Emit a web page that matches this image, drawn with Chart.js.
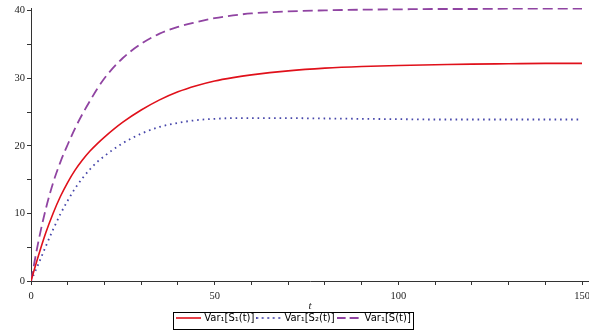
<!DOCTYPE html>
<html>
<head>
<meta charset="utf-8">
<script src="https://cdn.jsdelivr.net/npm/chart.js@4.4.0/dist/chart.umd.min.js"></script>
<style>
  html, body { margin: 0; padding: 0; background: #fff; }
</style>
</head>
<body>
<canvas id="varChart" width="589" height="333"></canvas>
<script>
// time points and the three variance curves
const times = [0, 2, 4, 6, 8, 10, 12, 14, 16, 18, 20, 25, 30, 35, 40, 45, 50, 55, 60, 70, 80, 90, 100, 110, 120, 130, 140, 150];
const varS1 = [0, 3.7, 7.1, 10.0, 12.5, 14.6, 16.4, 17.9, 19.2, 20.3, 21.3, 23.5, 25.3, 26.8, 28.0, 28.9, 29.6, 30.1, 30.5, 31.1, 31.5, 31.75, 31.9, 32.0, 32.1, 32.15, 32.2, 32.2];
const varS2 = [0, 2.5, 5.1, 7.6, 9.9, 11.9, 13.7, 15.2, 16.5, 17.6, 18.5, 20.4, 21.8, 22.8, 23.4, 23.8, 24.0, 24.1, 24.1, 24.1, 24.05, 24.0, 23.95, 23.9, 23.9, 23.9, 23.9, 23.9];
const varS = [0, 5.8, 10.6, 14.5, 17.6, 20.2, 22.6, 24.7, 26.6, 28.4, 30.0, 33.0, 35.1, 36.6, 37.6, 38.3, 38.9, 39.3, 39.6, 39.9, 40.05, 40.15, 40.2, 40.25, 40.25, 40.3, 40.3, 40.3];

const seriesNames = ['Var\u2081[S\u2081(t)]', 'Var\u2081[S\u2082(t)]', 'Var\u2081[S(t)]'];
const xTicks = [0, 10, 20, 30, 40, 50, 60, 70, 80, 90, 100, 110, 120, 130, 140, 150];
const yTicks = [0, 5, 10, 15, 20, 25, 30, 35, 40];

function pts(ys) {
  return times.map((x, i) => ({ x: x, y: ys[i] }));
}

// little line samples for the legend (pointStyle line ignores dashes)
function legendLine(color, width, dash) {
  const c = document.createElement('canvas');
  c.width = 25;
  c.height = 4;
  const g = c.getContext('2d');
  g.strokeStyle = color;
  g.lineWidth = width;
  g.setLineDash(dash);
  g.beginPath();
  g.moveTo(0, 2);
  g.lineTo(25, 2);
  g.stroke();
  return c;
}

// box around the legend entries
const legendFrame = {
  id: 'legendFrame',
  afterDraw(chart) {
    const boxes = chart.legend.legendHitBoxes;
    if (!boxes || !boxes.length) return;
    const left = boxes[0].left - 5;
    const last = boxes[boxes.length - 1];
    const right = last.left + last.width + 2;
    const top = boxes[0].top - 1;
    const bottom = boxes[0].top + boxes[0].height + 6;
    const ctx = chart.ctx;
    ctx.save();
    ctx.strokeStyle = '#000';
    ctx.lineWidth = 1;
    ctx.setLineDash([]);
    ctx.strokeRect(Math.round(left) + 0.5, Math.round(top) + 0.5, Math.round(right - left), Math.round(bottom - top));
    ctx.restore();
  }
};

const tickFont = { family: 'Liberation Serif', size: 10.5 };
const red = '#e0101a', blue = '#4646aa', purple = '#9044a2';

const config = {
  type: 'line',
  data: {
    datasets: [{
      label: seriesNames[0],
      data: pts(varS1),
      borderColor: red,
      borderWidth: 1.6,
      pointStyle: legendLine(red, 1.6, [])
    }, {
      label: seriesNames[1],
      data: pts(varS2),
      borderColor: blue,
      borderWidth: 1.8,
      borderDash: [1.6, 3.9],
      pointStyle: legendLine(blue, 1.8, [1.6, 3.9])
    }, {
      label: seriesNames[2],
      data: pts(varS),
      borderColor: purple,
      borderWidth: 1.8,
      borderDash: [10, 5],
      pointStyle: legendLine(purple, 1.8, [9, 4])
    }]
  },
  options: {
    responsive: false,
    animation: false,
    parsing: false,
    layout: { padding: { left: 0, right: 0, top: 8, bottom: 0 } },
    elements: {
      point: { radius: 0 },
      line: { cubicInterpolationMode: 'monotone', borderCapStyle: 'butt' }
    },
    plugins: {
      tooltip: { enabled: false },
      legend: {
        position: 'bottom',
        labels: {
          usePointStyle: true,
          pointStyleWidth: 21,
          padding: 4,
          color: '#000',
          font: { family: 'DejaVu Sans', size: 10 }
        }
      }
    },
    scales: {
      x: {
        type: 'linear',
        min: 0,
        max: 151.9,
        border: { display: true, color: '#333', width: 1 },
        grid: { drawOnChartArea: false, drawTicks: true, tickLength: 4, color: '#333' },
        ticks: {
          autoSkip: false,
          maxRotation: 0,
          padding: 5,
          color: '#222',
          font: tickFont,
          callback: v => (v % 50 === 0 ? v : '')
        },
        title: {
          display: true,
          text: 't',
          color: '#222',
          padding: { top: 0, bottom: -4 },
          font: { family: 'Liberation Serif', size: 11, style: 'italic' }
        },
        afterBuildTicks: s => { s.ticks = xTicks.map(v => ({ value: v })); },
        afterFit: s => { s.height = 28; s.paddingLeft = 0; s.paddingRight = 0; }
      },
      y: {
        min: 0,
        max: 40.4,
        border: { display: true, color: '#333', width: 1 },
        grid: { drawOnChartArea: false, drawTicks: true, tickLength: 4, color: '#333' },
        ticks: {
          autoSkip: false,
          padding: 2,
          color: '#222',
          font: tickFont,
          callback: v => (v % 10 === 0 ? v : '')
        },
        afterBuildTicks: s => { s.ticks = yTicks.map(v => ({ value: v })); },
        afterFit: s => { s.width = 31; s.paddingTop = 0; s.paddingBottom = 0; }
      }
    }
  },
  plugins: [legendFrame]
};

const ctx = document.getElementById('varChart');
const varChart = new Chart(ctx, config);
</script>
</body>
</html>
